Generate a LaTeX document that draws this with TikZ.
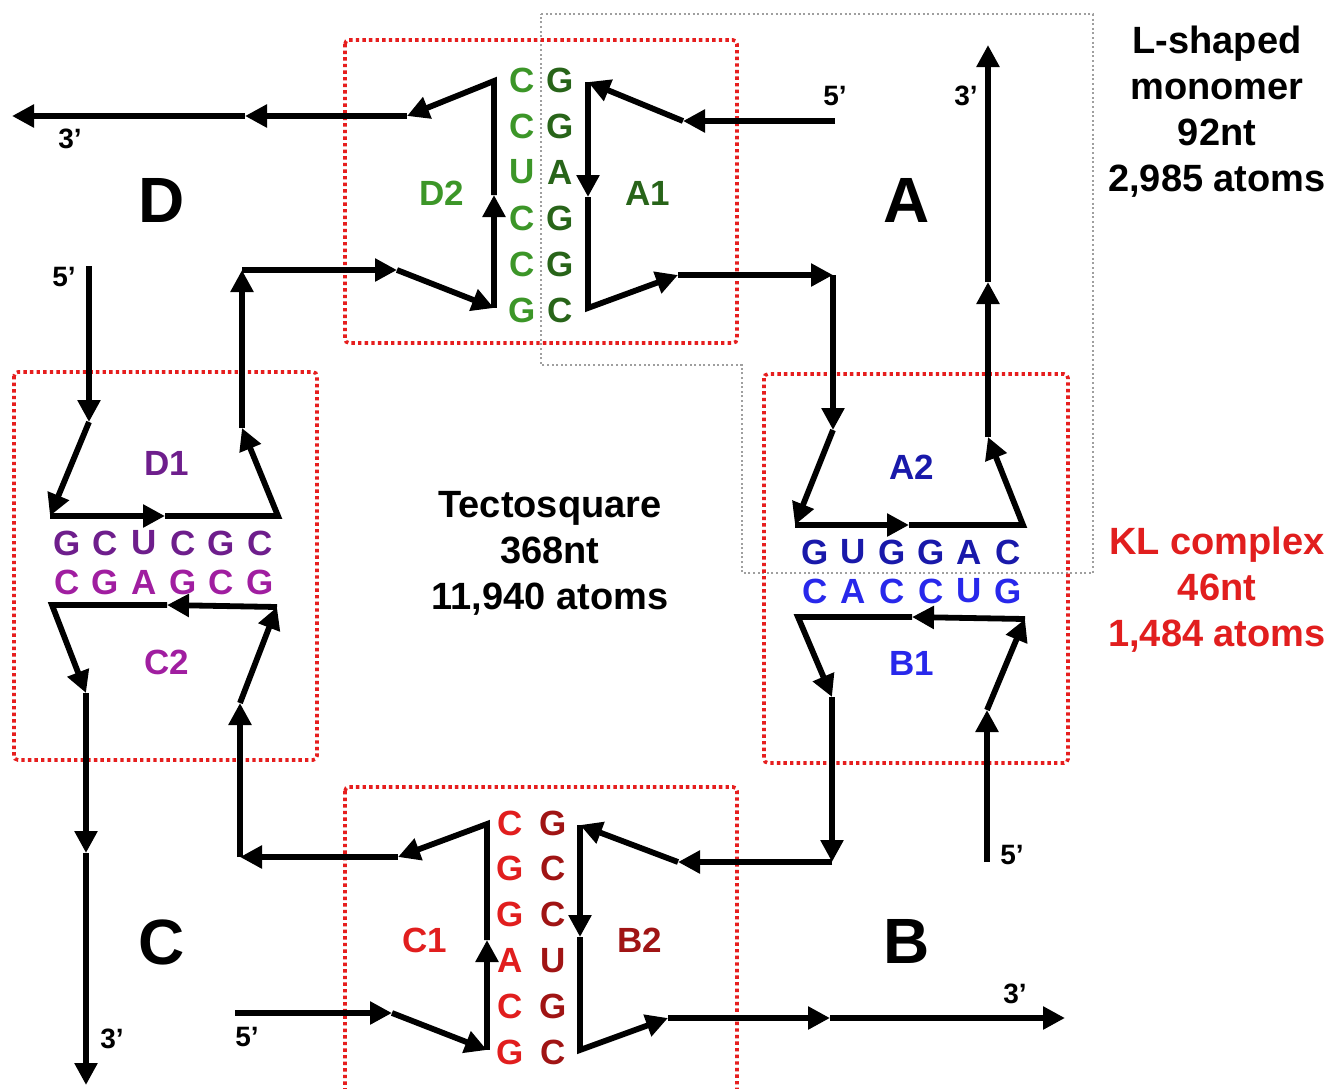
\documentclass[tikz,border=0pt]{standalone}
\usepackage{fontspec}
\setmainfont{Liberation Sans}
\usetikzlibrary{arrows.meta}
\definecolor{lgreen}{RGB}{60,150,40}
\definecolor{dgreen}{RGB}{40,100,25}
\definecolor{bred}{RGB}{225,30,30}
\definecolor{dred}{RGB}{160,20,20}
\definecolor{dpurple}{RGB}{110,30,140}
\definecolor{mpurple}{RGB}{160,30,160}
\definecolor{dblue}{RGB}{25,25,170}
\definecolor{lblue}{RGB}{40,40,235}
\definecolor{boxred}{RGB}{230,30,30}
\begin{document}
\begin{tikzpicture}[x=0.5pt,y=-0.5pt,
  seg/.style={line width=2.9pt,-{Triangle[length=11pt,width=11pt]},line join=miter},
  redbox/.style={draw=boxred,line width=1.8pt,dash pattern=on 1.7pt off 1.6pt,rounded corners=2pt},
  graybox/.style={draw=gray!75,line width=1pt,dash pattern=on 1pt off 1.3pt},
  base/.style={font=\fontsize{17.5}{19}\selectfont\bfseries,inner sep=0pt},
  lab/.style={font=\fontsize{17.5}{19}\selectfont\bfseries,inner sep=0pt},
  big/.style={font=\fontsize{32}{36}\selectfont\bfseries,inner sep=0pt},
  endlab/.style={font=\fontsize{14}{16}\selectfont\bfseries,inner sep=0pt},
  info/.style={font=\fontsize{19}{23}\selectfont\bfseries,align=center,inner sep=0pt}]
\useasboundingbox (0,0) rectangle (1329,1088);
\clip (0,0) rectangle (1329,1088);
\fill[white] (0,0) rectangle (1329,1088);

% boxes
\draw[graybox] (541,14) -- (1093,14) -- (1093,573) -- (742,573) -- (742,365) -- (541,365) -- cycle;
\draw[redbox] (345,40) rectangle (737,343);
\draw[redbox] (14,372) rectangle (317,760);
\draw[redbox] (764,374) rectangle (1068,763);
\draw[redbox] (345,787) rectangle (737,1100);

% strand A
\coordinate (a0) at (835,121);
\coordinate (a1) at (683,121);
\coordinate (a2) at (588,82);
\coordinate (a3) at (588,197);
\coordinate (a4) at (588,308);
\coordinate (a5) at (678,275);
\coordinate (a6) at (833,275);
\coordinate (a7) at (833,430);
\coordinate (a8) at (795,525);
\coordinate (a9) at (909,525);
\coordinate (a10) at (1023,525);
\coordinate (a11) at (988,437);
\coordinate (a12) at (988,282);
\coordinate (a13) at (988,45);
\draw[seg] (a0) -- (a1);
\draw[seg] (a1) -- (a2);
\draw[seg] (a2) -- (a3);
\draw[seg] (a3) -- (a4) -- (a5);
\draw[seg] (a5) -- (a6);
\draw[seg] (a6) -- (a7);
\draw[seg] (a7) -- (a8);
\draw[seg] (a8) -- (a9);
\draw[seg] (a9) -- (a10) -- (a11);
\draw[seg] (a11) -- (a12);
\draw[seg] (a12) -- (a13);

% strand D
\coordinate (d0) at (89,266);
\coordinate (d1) at (89,422);
\coordinate (d2) at (50,516);
\coordinate (d3) at (165,516);
\coordinate (d4) at (278,516);
\coordinate (d5) at (242,428);
\coordinate (d6) at (242,270);
\coordinate (d7) at (397,270);
\coordinate (d8) at (494,308);
\coordinate (d9) at (494,195);
\coordinate (d10) at (494,81);
\coordinate (d11) at (407,116);
\coordinate (d12) at (245,116);
\coordinate (d13) at (12,116);
\draw[seg] (d0) -- (d1);
\draw[seg] (d1) -- (d2);
\draw[seg] (d2) -- (d3);
\draw[seg] (d3) -- (d4) -- (d5);
\draw[seg] (d5) -- (d6);
\draw[seg] (d6) -- (d7);
\draw[seg] (d7) -- (d8);
\draw[seg] (d8) -- (d9);
\draw[seg] (d9) -- (d10) -- (d11);
\draw[seg] (d11) -- (d12);
\draw[seg] (d12) -- (d13);

% strand B
\coordinate (b0) at (987,862);
\coordinate (b1) at (987,710);
\coordinate (b2) at (1025,619);
\coordinate (b3) at (912,617);
\coordinate (b4) at (798,617);
\coordinate (b5) at (832,697);
\coordinate (b6) at (832,862);
\coordinate (b7) at (678,862);
\coordinate (b8) at (580,825);
\coordinate (b9) at (580,937);
\coordinate (b10) at (580,1050);
\coordinate (b11) at (668,1018);
\coordinate (b12) at (830,1018);
\coordinate (b13) at (1065,1018);
\draw[seg] (b0) -- (b1);
\draw[seg] (b1) -- (b2);
\draw[seg] (b2) -- (b3);
\draw[seg] (b3) -- (b4) -- (b5);
\draw[seg] (b5) -- (b6);
\draw[seg] (b6) -- (b7);
\draw[seg] (b7) -- (b8);
\draw[seg] (b8) -- (b9);
\draw[seg] (b9) -- (b10) -- (b11);
\draw[seg] (b11) -- (b12);
\draw[seg] (b12) -- (b13);

% strand C
\coordinate (c0) at (235,1013);
\coordinate (c1) at (392,1013);
\coordinate (c2) at (487,1050);
\coordinate (c3) at (487,940);
\coordinate (c4) at (487,824);
\coordinate (c5) at (398,857);
\coordinate (c6) at (240,857);
\coordinate (c7) at (240,703);
\coordinate (c8) at (277,607);
\coordinate (c9) at (167,605);
\coordinate (c10) at (52,605);
\coordinate (c11) at (86,693);
\coordinate (c12) at (86,853);
\coordinate (c13) at (86,1085);
\draw[seg] (c0) -- (c1);
\draw[seg] (c1) -- (c2);
\draw[seg] (c2) -- (c3);
\draw[seg] (c3) -- (c4) -- (c5);
\draw[seg] (c5) -- (c6);
\draw[seg] (c6) -- (c7);
\draw[seg] (c7) -- (c8);
\draw[seg] (c8) -- (c9);
\draw[seg] (c9) -- (c10) -- (c11);
\draw[seg] (c11) -- (c12);
\draw[seg] (c12) -- (c13);

% base columns top
\foreach \l [count=\i] in {C,C,U,C,C,G}
  \node[base,text=lgreen] (tl\i) at (522,{80+46*(\i-1)}) {\l};
\foreach \l [count=\i] in {G,G,A,G,G,C}
  \node[base,text=dgreen] (tr\i) at (560,{80+46*(\i-1)}) {\l};
% base columns bottom
\foreach \l [count=\i] in {C,G,G,A,C,G}
  \node[base,text=bred] (bl\i) at (510,{823+45.8*(\i-1)}) {\l};
\foreach \l [count=\i] in {G,C,C,U,G,C}
  \node[base,text=dred] (br\i) at (553,{823+45.8*(\i-1)}) {\l};
% base rows left
\foreach \l [count=\i] in {G,C,U,C,G,C}
  \node[base,text=dpurple] (lu\i) at ({67+38.6*(\i-1)},543) {\l};
\foreach \l [count=\i] in {C,G,A,G,C,G}
  \node[base,text=mpurple] (ll\i) at ({67+38.6*(\i-1)},582) {\l};
% base rows right
\foreach \l [count=\i] in {G,U,G,G,A,C}
  \node[base,text=dblue] (ru\i) at ({815+38.6*(\i-1)},552) {\l};
\foreach \l [count=\i] in {C,A,C,C,U,G}
  \node[base,text=lblue] (rl\i) at ({815+38.6*(\i-1)},591) {\l};

% helix labels
\node[lab,text=lgreen] (D2) at (442,193) {D2};
\node[lab,text=dgreen] (A1) at (648,193) {A1};
\node[lab,text=bred] (C1) at (425,940) {C1};
\node[lab,text=dred] (B2) at (640,940) {B2};
\node[lab,text=dpurple] (D1) at (167,463) {D1};
\node[lab,text=mpurple] (C2) at (167,662) {C2};
\node[lab,text=dblue] (A2) at (912,467) {A2};
\node[lab,text=lblue] (B1) at (912,663) {B1};

% monomer letters
\node[big] (mD) at (162,200) {D};
\node[big] (mA) at (907,200) {A};
\node[big] (mC) at (162,942) {C};
\node[big] (mB) at (907,941) {B};

% strand ends
\node[endlab] (e1) at (835,96) {5’};
\node[endlab] (e2) at (966,96) {3’};
\node[endlab] (e3) at (70,139) {3’};
\node[endlab] (e4) at (64,277) {5’};
\node[endlab] (e5) at (1012,855) {5’};
\node[endlab] (e6) at (1015,994) {3’};
\node[endlab] (e7) at (112,1039) {3’};
\node[endlab] (e8) at (247,1037) {5’};

% info texts
\node[info] (mono) at (1217,112) {L-shaped\\monomer\\92nt\\2,985 atoms};
\node[info,text=bred] (kl) at (1217,590) {KL complex\\46nt\\1,484 atoms};
\node[info] (tecto) at (550,553) {Tectosquare\\368nt\\11,940 atoms};
\end{tikzpicture}
\end{document}
